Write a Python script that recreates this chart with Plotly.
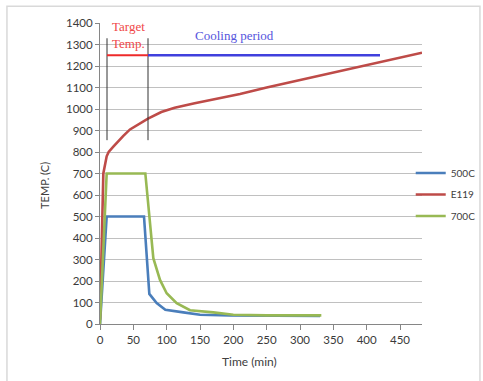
import plotly.graph_objects as go

# ---- data ----
t_500 = [0, 10, 66, 74, 85, 98, 125, 150, 195, 250, 330]
v_500 = [0, 500, 500, 140, 97, 66, 54, 43, 40, 38, 38]

t_e119 = [0, 2, 5, 10, 13, 20, 27, 35, 45, 55, 72, 92, 112, 142, 172, 210, 250, 300, 350, 400, 450, 483]
v_e119 = [20, 350, 700, 780, 800, 825, 850, 875, 905, 925, 955, 986, 1006, 1027, 1045, 1070, 1100, 1135, 1170, 1205, 1240, 1262]

t_700 = [0, 10, 68, 80, 90, 100, 115, 135, 170, 200, 250, 332]
v_700 = [0, 700, 700, 306, 205, 143, 97, 64, 54, 43, 40, 40]

series_names = ["500C", "E119", "700C"]
series_colors = ["#4A7EBB", "#BE4B48", "#98B954"]

x_ticks = [0, 50, 100, 150, 200, 250, 300, 350, 400, 450]
y_ticks = list(range(0, 1401, 100))

# annotation markers (data units)
target_start, target_end, cooling_end = 10.5, 72, 420
marker_level = 1250
vline_bottom, vline_top = 855, 1329

fig = go.Figure()
for name, tx, vy, col in zip(series_names, [t_500, t_e119, t_700], [v_500, v_e119, v_700], series_colors):
    fig.add_trace(go.Scatter(x=tx, y=vy, mode="lines", name=name, legendgroup=name,
                             line=dict(color=col, width=2.6)))

shapes = [
    dict(type="line", xref="x", yref="y", x0=target_start, x1=target_start, y0=vline_bottom, y1=vline_top,
         line=dict(color="#333333", width=1)),
    dict(type="line", xref="x", yref="y", x0=target_end, x1=target_end, y0=vline_bottom, y1=vline_top,
         line=dict(color="#333333", width=1)),
    dict(type="line", xref="x", yref="y", x0=target_start, x1=target_end, y0=marker_level, y1=marker_level,
         line=dict(color="#EE2A2A", width=2.2)),
    dict(type="line", xref="x", yref="y", x0=target_end, x1=cooling_end, y0=marker_level, y1=marker_level,
         line=dict(color="#4040DD", width=2.4)),
    dict(type="rect", xref="paper", yref="paper", x0=-0.289, x1=1.180, y0=-0.21, y1=1.056,
         line=dict(color="#D9D9D9", width=1.5), fillcolor="rgba(0,0,0,0)", layer="below"),
]

annotations = [
    dict(x=(target_start + target_end) / 2 + 2, y=1382, xref="x", yref="y", text="Target",
         showarrow=False, font=dict(family="Liberation Serif", size=13, color="#F04848")),
    dict(x=(target_start + target_end) / 2 + 2, y=1306, xref="x", yref="y", text="Temp.",
         showarrow=False, font=dict(family="Liberation Serif", size=13, color="#F04848")),
    dict(x=201, y=1342, xref="x", yref="y", text="Cooling period", showarrow=False,
         font=dict(family="Liberation Serif", size=13, color="#5555DD")),
    dict(x=-0.171, y=0.462, xref="paper", yref="paper", text="TEMP. (C)", textangle=-90,
         xanchor="center", yanchor="middle",
         showarrow=False, font=dict(family="Lato", size=11, color="#404040")),
    dict(x=0.464, y=-0.124, xref="paper", yref="paper", text="Time (min)", showarrow=False,
         xanchor="center", yanchor="middle",
         font=dict(family="Lato", size=12, color="#404040")),
]

fig.update_layout(
    width=483, height=381,
    margin=dict(l=100, r=61, t=23, b=57, pad=0, autoexpand=False),
    paper_bgcolor="white", plot_bgcolor="white",
    shapes=shapes, annotations=annotations,
    font=dict(family="Lato", size=11, color="#404040"),
    showlegend=True,
    legend=dict(x=0.965, y=0.55, xanchor="left", yanchor="top", bgcolor="rgba(0,0,0,0)",
                font=dict(family="Lato", size=10, color="#404040"), tracegroupgap=2.5,
                itemwidth=30),
    xaxis=dict(range=[0, 483], tickvals=x_ticks, showgrid=False, zeroline=False,
               showline=True, linecolor="#868686", linewidth=1, ticks="outside", ticklen=5,
               tickcolor="#868686", tickfont=dict(size=11.5, color="#3a3a3a")),
    yaxis=dict(range=[0, 1400], tickvals=y_ticks, showgrid=True, gridcolor="#C0C0C0", gridwidth=1,
               zeroline=False, showline=True, linecolor="#868686", linewidth=1, ticks="outside",
               ticklen=4, tickcolor="#868686", tickfont=dict(size=11.5, color="#3a3a3a")),
)

fig.write_html("out.html", config={"displayModeBar": False},
               post_script="document.body.style.margin='0';document.body.style.overflow='hidden';")
